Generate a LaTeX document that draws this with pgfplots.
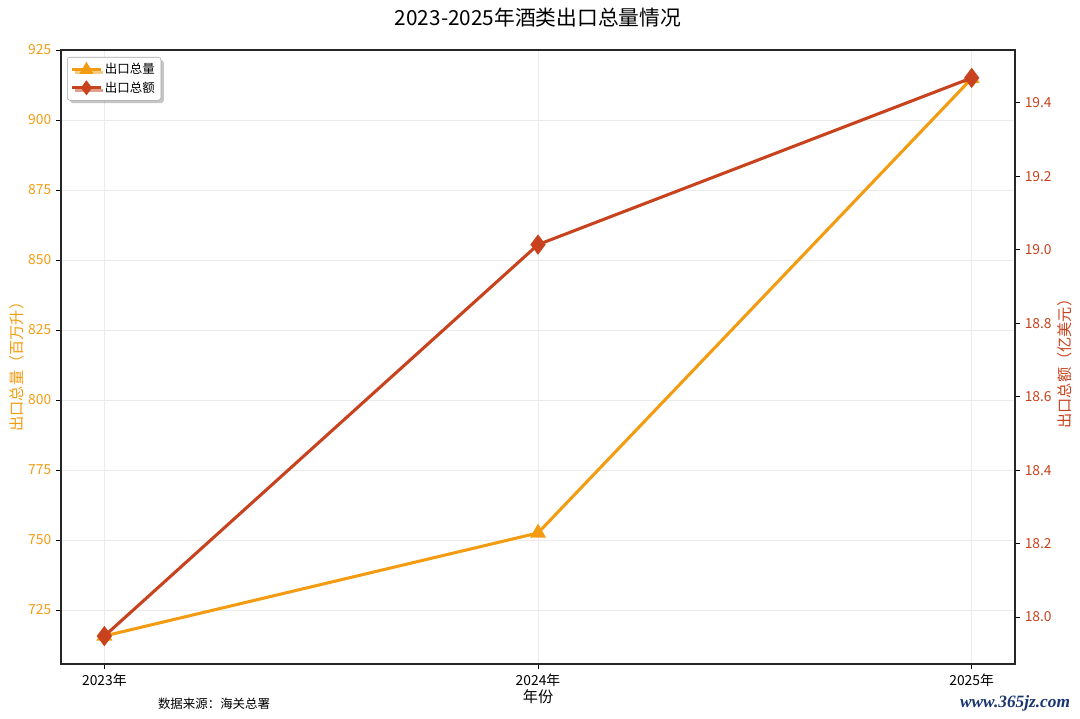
\documentclass[border=0pt]{standalone}
\usepackage{fontspec}
\setmainfont{Noto Sans CJK SC}
\usepackage{pgfplots}
\pgfplotsset{compat=1.18}
\usetikzlibrary{shadows}
\definecolor{cor}{HTML}{F39C12}
\definecolor{cred}{HTML}{C8421E}
\definecolor{gridc}{HTML}{EBEBEB}
\definecolor{wm}{HTML}{1A3570}
\begin{document}
\begin{tikzpicture}[x=1bp,y=1bp]
\useasboundingbox (-43.92,-39.6) rectangle (733.68,478.08);
\begin{axis}[at={(0,0)}, anchor=south west, scale only axis,
  width=686.88bp, height=442.08bp,
  xmin=-0.1, xmax=2.1, ymin=705.7, ymax=925,
  xtick={0,1,2}, xticklabels={2023年,2024年,2025年},
  ytick={725,750,775,800,825,850,875,900,925},
  xtick pos=bottom, ytick pos=left, tick align=outside,
  major tick length=3.5bp,
  every tick/.style={black, line width=0.6bp},
  /pgf/number format/assume math mode=true,
  tick label style={font=\fontsize{10}{12}\selectfont},
  yticklabel style={text=cor},
  xmajorgrids, ymajorgrids,
  grid style={gridc, line width=0.6bp},
  axis line style={black!85, line width=0.8bp},
  xlabel={年份},
  xlabel style={at={(axis description cs:0.5,-0.0537)}, anchor=center, font=\fontsize{11}{13}\selectfont},
  ylabel={出口总量（百万升）},
  ylabel style={at={(axis description cs:-0.0461,0.49)}, anchor=center, text=cor, font=\fontsize{11}{13}\selectfont},
  title={2023-2025年酒类出口总量情况},
  title style={at={(axis description cs:0.5,1.039)}, anchor=center, font=\fontsize{15}{17}\selectfont},
  legend style={at={(axis description cs:0.0063,0.9886)}, anchor=north west,
    draw=black!35, fill=white, rounded corners=2pt, drop shadow={shadow xshift=2bp, shadow yshift=-2bp, fill=black!45},
    font=\fontsize{9}{11}\selectfont, inner sep=2.5bp, row sep=0bp},
  legend cell align=left,
  every legend image post/.append style={mark size=3.6bp},
  legend image code/.code={\draw[mark repeat=2,mark phase=2] plot coordinates {(0cm,0cm) (0.36cm,0cm) (0.72cm,0cm)};},
]
\addplot[cor, line width=2.2bp, mark=triangle*, mark size=4.5bp, mark options={fill=cor}]
  coordinates {(0,715.7) (1,752.5) (2,914.8)};
\addlegendentry{出口总量}
\addlegendimage{cred, line width=2.2bp, mark=diamond*, mark size=5.5bp, mark options={fill=cred}}
\addlegendentry{出口总额}
\end{axis}
\begin{axis}[at={(0,0)}, anchor=south west, scale only axis,
  width=686.88bp, height=442.08bp,
  xmin=-0.1, xmax=2.1, ymin=17.872, ymax=19.544,
  axis x line=none, axis y line*=right,
  ytick={18.0,18.2,18.4,18.6,18.8,19.0,19.2,19.4},
  yticklabel style={text=cred, /pgf/number format/.cd, fixed, fixed zerofill, precision=1},
  /pgf/number format/assume math mode=true,
  tick label style={font=\fontsize{10}{12}\selectfont},
  tick align=outside, major tick length=3.5bp,
  every tick/.style={black, line width=0.6bp},
  axis line style={black!85, line width=0.8bp},
  ylabel={出口总额（亿美元）},
  ylabel style={at={(axis description cs:1.0524,0.495)}, anchor=center, text=cred, font=\fontsize{11}{13}\selectfont},
]
\addplot[cred, line width=2.2bp, mark=diamond*, mark size=5.5bp, mark options={fill=cred}]
  coordinates {(0,17.948) (1,19.014) (2,19.468)};
\end{axis}
\node[anchor=center, font=\fontsize{9}{11}\selectfont] at (110.2,-28.8) {数据来源：海关总署};
\node[anchor=center, text=wm, font=\fontspec{Liberation Serif}\bfseries\itshape\fontsize{12.5}{14}\selectfont] at (686.9,-28.1) {www.365jz.com};
\end{tikzpicture}
\end{document}
